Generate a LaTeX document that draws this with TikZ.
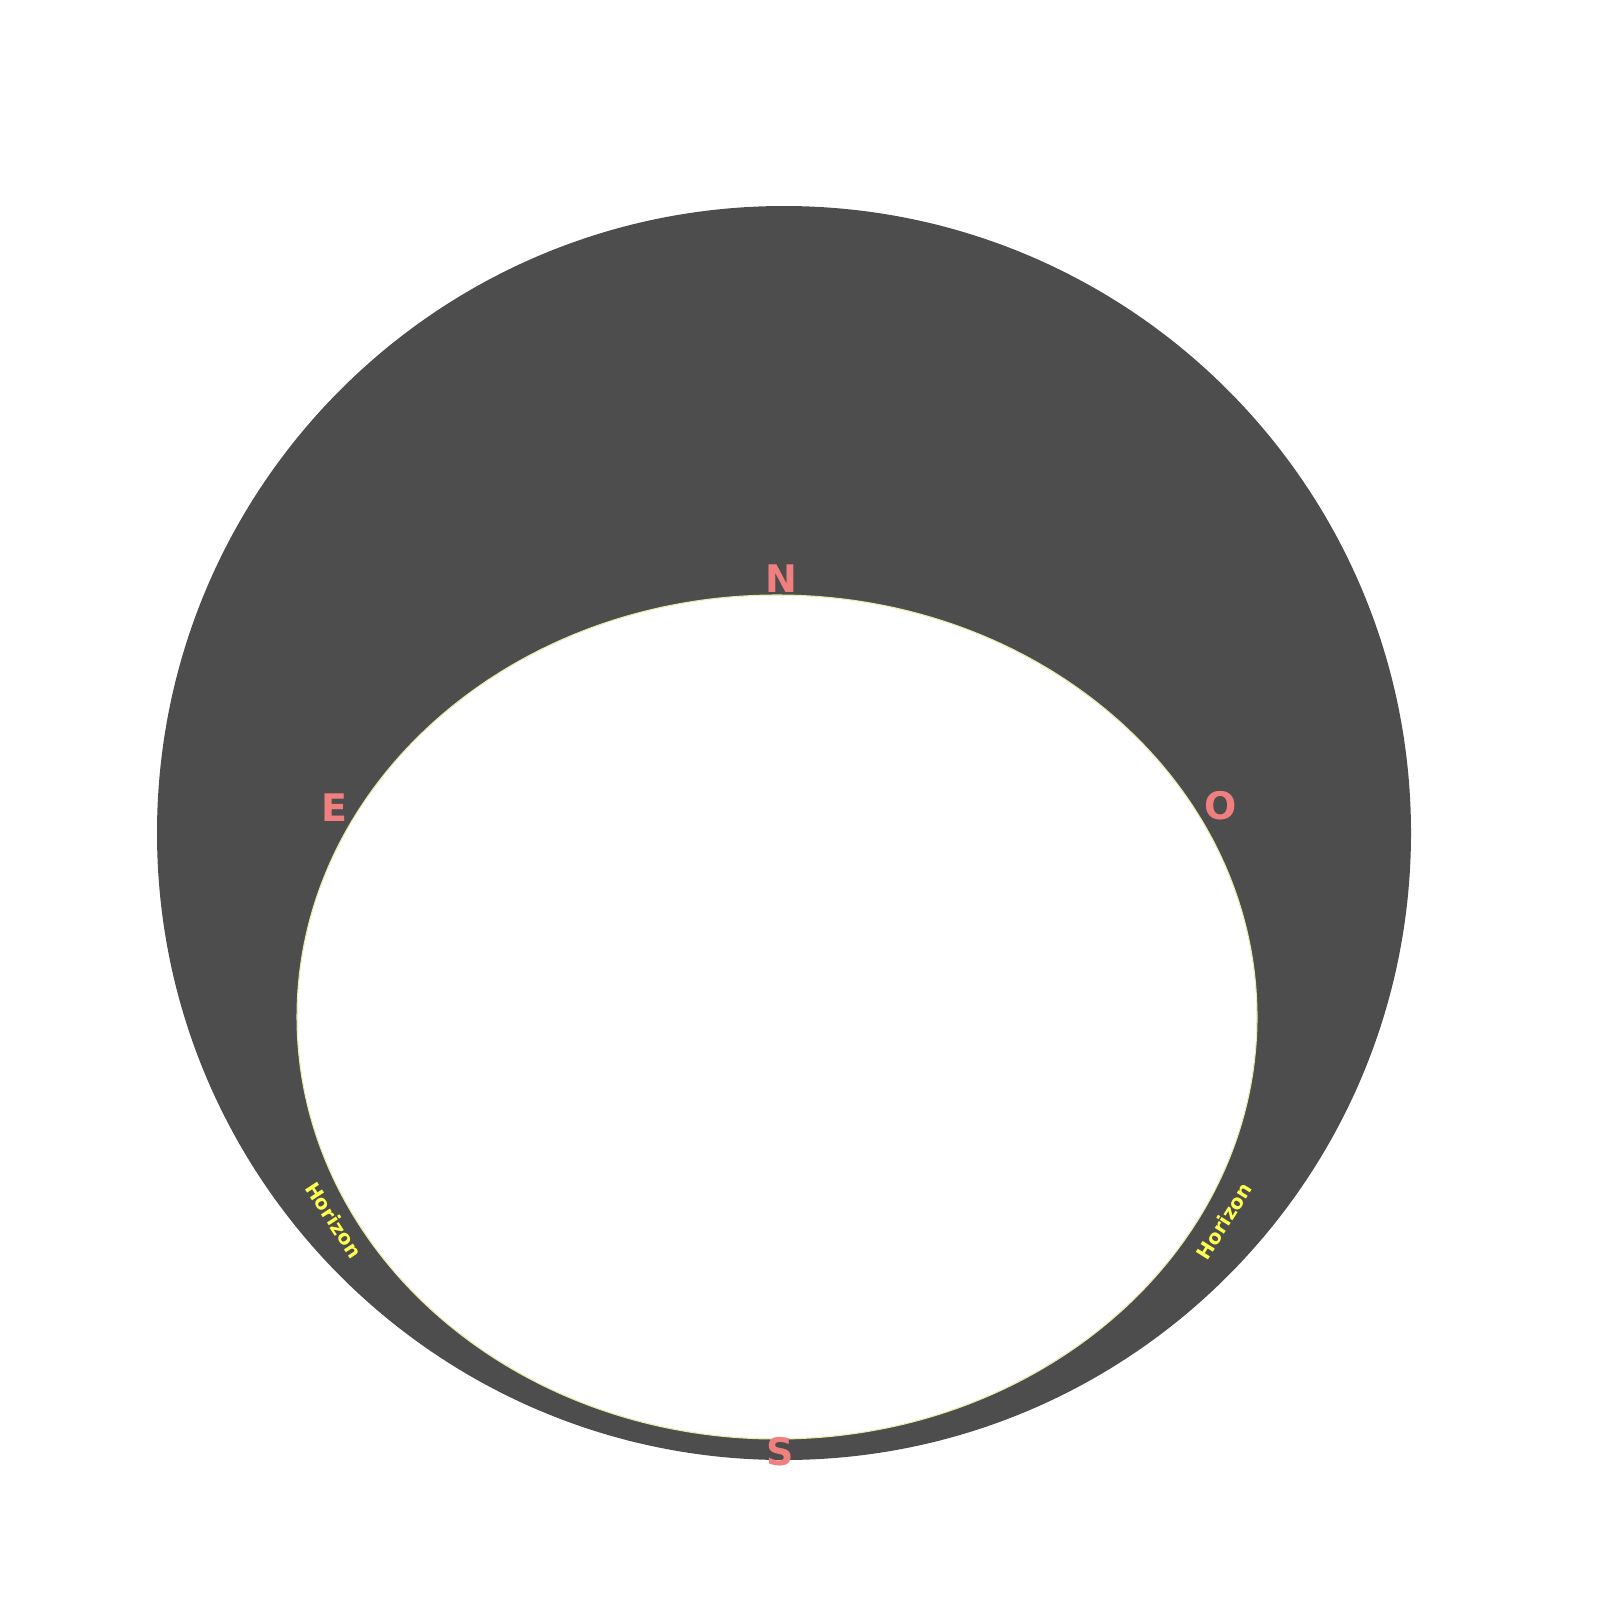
\documentclass[tikz,border=0pt]{standalone}
\usepackage{fontspec}
\setmainfont{DejaVu Sans}
\definecolor{skydark}{RGB}{77,77,77}
\definecolor{cardinal}{RGB}{240,128,128}
\definecolor{horiz}{RGB}{255,255,80}
\definecolor{rimline}{RGB}{235,235,170}
\tikzset{
  cardlabel/.style={text=cardinal, font=\bfseries\fontsize{10.8}{12}\selectfont, inner sep=0pt},
  horlabel/.style={text=horiz, font=\bfseries\fontsize{5.6}{6}\selectfont, inner sep=0pt},
}
\begin{document}
\begin{tikzpicture}[x=0.01cm,y=-0.01cm]
\useasboundingbox (0,0) rectangle (1600,1600);
\fill[skydark, even odd rule] (784,833) circle [radius=627]
  (777,1017) ellipse [x radius=480, y radius=422];
\draw[rimline, line width=0.3pt] (777,1017) ellipse [x radius=480, y radius=422];
\node[cardlabel] (north) at (781,579) {N};
\node[cardlabel] (east) at (334,808) {E};
\node[cardlabel] (west) at (1221,806) {O};
\node[cardlabel] (south) at (780,1452) {S};
\node[horlabel, rotate=-57] (horleft) at (334,1220) {Horizon};
\node[horlabel, rotate=58] (horright) at (1224,1221) {Horizon};
\end{tikzpicture}
\end{document}
